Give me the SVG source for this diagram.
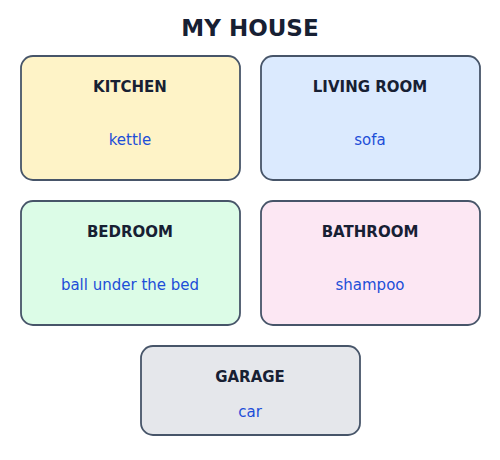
<svg xmlns="http://www.w3.org/2000/svg" width="500" height="460" viewBox="0 0 500 460">
<style>
.box{stroke:#475569;stroke-width:1.8}
.title{font-family:"DejaVu Sans",sans-serif;font-weight:bold;font-size:23px;fill:#172033;text-anchor:middle}
.name{font-family:"DejaVu Sans",sans-serif;font-weight:bold;font-size:15px;fill:#172033;text-anchor:middle}
.item{font-family:"DejaVu Sans",sans-serif;font-size:15px;fill:#1d4ed8;text-anchor:middle}
</style>
<rect width="500" height="460" fill="#ffffff"/>
<text class="title" x="250" y="36">MY HOUSE</text>
<g id="connectors"></g>
<g id="kitchen">
<rect class="box" x="21" y="56" width="219" height="124" rx="12" fill="#fef3c7"/>
<text class="name" x="130" y="92">KITCHEN</text>
<text class="item" x="130" y="145">kettle</text>
</g>
<g id="living-room">
<rect class="box" x="261" y="56" width="219" height="124" rx="12" fill="#dbeafe"/>
<text class="name" x="370" y="92">LIVING ROOM</text>
<text class="item" x="370" y="145">sofa</text>
</g>
<g id="bedroom">
<rect class="box" x="21" y="201" width="219" height="124" rx="12" fill="#dcfce7"/>
<text class="name" x="130" y="237">BEDROOM</text>
<text class="item" x="130" y="290">ball under the bed</text>
</g>
<g id="bathroom">
<rect class="box" x="261" y="201" width="219" height="124" rx="12" fill="#fce7f3"/>
<text class="name" x="370" y="237">BATHROOM</text>
<text class="item" x="370" y="290">shampoo</text>
</g>
<g id="garage">
<rect class="box" x="141" y="346" width="219" height="89" rx="12" fill="#e5e7eb"/>
<text class="name" x="250" y="382">GARAGE</text>
<text class="item" x="250" y="417">car</text>
</g>
</svg>
